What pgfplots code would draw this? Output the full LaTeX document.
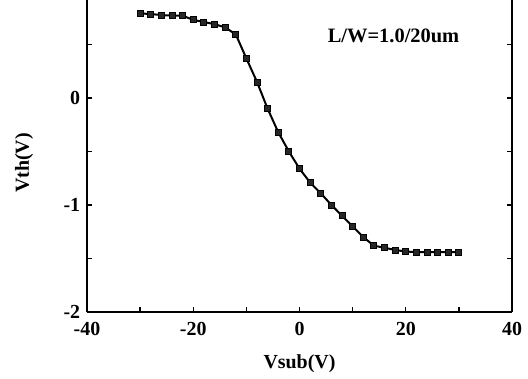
\documentclass[border=0pt]{standalone}
\usepackage{fontspec}
\setmainfont{Liberation Serif}
\usepackage{pgfplots}
\pgfplotsset{compat=1.18}
\begin{document}
\fontsize{20}{24}\selectfont\bfseries
\begin{tikzpicture}
\begin{axis}[
  name=ax,
  scale only axis,
  width=425bp, height=312bp,
  xmin=-40, xmax=40, ymin=-2, ymax=0.916,
  axis x line*=bottom,
  axis line style={line width=1.8bp},
  xtick={-40,-20,0,20,40},
  minor xtick={-30,-10,10,30},
  ytick={-2,-1,0,1},
  minor ytick={-1.5,-0.5,0.5},
  tick align=inside,
  major tick length=5bp, minor tick length=5bp,
  every tick/.style={black, line width=1.4bp},
  ytick pos=both,
  /pgf/number format/assume math mode=true,
  ticklabel style={font=\fontsize{20}{24}\selectfont\bfseries},
  xticklabel style={yshift=-3bp},
  xlabel={Vsub(V)}, ylabel={Vth(V)},
  label style={font=\fontsize{20}{24}\selectfont\bfseries},
  xlabel style={at={(axis description cs:0.5,0)}, anchor=center, yshift=-52bp},
  ylabel style={at={(axis description cs:-0.148,0.478)}, anchor=center},
  clip=false,
]
\addplot[black, line width=2bp, mark=square*, mark size=3bp, mark options={fill=black!85, draw=black, line width=0.8bp}] coordinates {
(-30,0.79) (-28,0.785) (-26,0.775) (-24,0.77) (-22,0.77) (-20,0.73)
(-18,0.71) (-16,0.69) (-14,0.66) (-12,0.595) (-10,0.37) (-8,0.15)
(-6,-0.10) (-4,-0.32) (-2,-0.50) (0,-0.66) (2,-0.79) (4,-0.89)
(6,-1.00) (8,-1.10) (10,-1.20) (12,-1.30) (14,-1.38) (16,-1.40)
(18,-1.42) (20,-1.435) (22,-1.44) (24,-1.44) (26,-1.44) (28,-1.44) (30,-1.44)
};
\node[font=\fontsize{20.5}{24}\selectfont\bfseries] at (axis cs:17.7,0.58) {L/W=1.0/20um};
\end{axis}
\pgfresetboundingbox
\path ([xshift=-87bp,yshift=-66bp]ax.south west) rectangle ([xshift=16bp]ax.north east);
\end{tikzpicture}
\end{document}
